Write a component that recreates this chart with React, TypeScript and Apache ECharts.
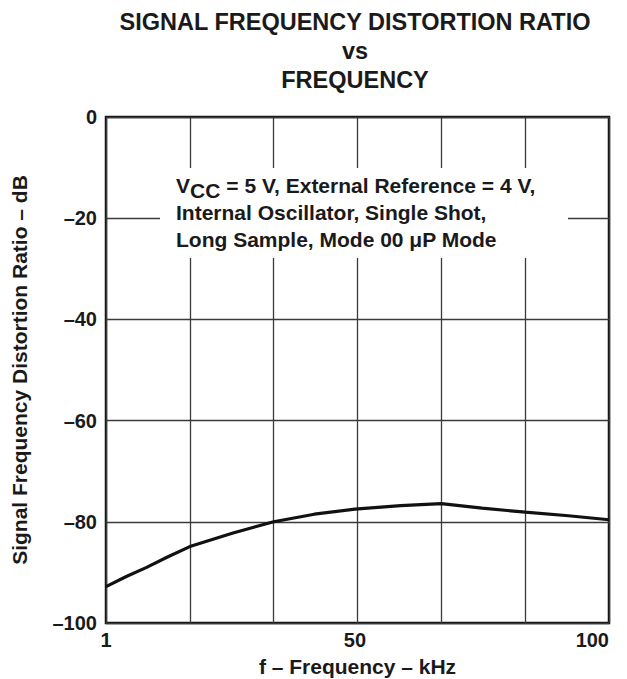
import React, { useEffect, useRef } from "react";
import * as echarts from "echarts";

const freqKHz = [1, 5, 9, 13, 17.5, 26, 34, 42, 50, 59, 67, 75, 83.5, 92, 100];
const distortionDb = [-92.8, -90.8, -89.0, -87.0, -84.9, -82.2, -80.0, -78.5, -77.5, -76.8, -76.4, -77.3, -78.1, -78.8, -79.6];
const xTickLabels = [1, 50, 100];
const yTicks = { min: -100, max: 0, interval: 20 };
const titleLines = ["SIGNAL FREQUENCY DISTORTION RATIO", "vs", "FREQUENCY"];
const noteLine1 = ["V", "CC", " = 5 V, External Reference = 4 V,"];
const noteLines = ["Internal Oscillator, Single Shot,", "Long Sample, Mode 00 \u03bcP Mode"];

const FONT = "'Liberation Sans', Arial, Helvetica, sans-serif";

export default function App() {
  const ref = useRef<HTMLDivElement>(null);
  useEffect(() => {
    document.body.style.margin = "0";
    const chart = echarts.init(ref.current!, null, { renderer: "svg" });
    const GL = 106, GT = 117, GW = 503, GH = 506;
    chart.setOption({
      animation: false,
      backgroundColor: "#ffffff",
      textStyle: { fontFamily: FONT },
      grid: {
        left: GL,
        top: GT,
        width: GW,
        height: GH,
        show: true,
        borderColor: "#111",
        borderWidth: 2.5,
        backgroundColor: "transparent",
        outerBoundsMode: "none",
        containLabel: false,
      },
      xAxis: [
        {
          type: "value",
          min: 1,
          max: 100,
          position: "bottom",
          axisLine: { show: false },
          axisTick: { show: false },
          splitLine: { show: false },
          axisLabel: {
            customValues: xTickLabels,
            margin: 7,
            color: "#1a1a1a",
            fontSize: 20,
            fontWeight: "bold",
            fontFamily: FONT,
            alignMaxLabel: "right",
          },
          name: "f \u2013 Frequency \u2013 kHz",
          nameLocation: "middle",
          nameGap: 33,
          nameTextStyle: { color: "#1a1a1a", fontSize: 21, lineHeight: 21, fontWeight: "bold", fontFamily: FONT },
        },
        {
          type: "value",
          min: 0,
          max: 6,
          interval: 1,
          position: "bottom",
          axisLine: { show: false },
          axisTick: { show: false },
          axisLabel: { show: false },
          splitLine: { show: true, lineStyle: { color: "#3a3a3a", width: 1.3 } },
        },
      ],
      yAxis: {
        type: "value",
        min: yTicks.min,
        max: yTicks.max,
        interval: yTicks.interval,
        axisLine: { show: false },
        axisTick: { show: false },
        splitLine: { show: true, lineStyle: { color: "#3a3a3a", width: 1.3 } },
        axisLabel: {
          margin: 9,
          color: "#1a1a1a",
          fontSize: 20,
          fontWeight: "bold",
          fontFamily: FONT,
          formatter: (v: number) => (v < 0 ? "\u2013" + Math.abs(v) : String(v)),
        },
        name: "Signal Frequency Distortion Ratio \u2013 dB",
        nameLocation: "middle",
        nameGap: 76,
        nameTextStyle: { color: "#1a1a1a", fontSize: 21, fontWeight: "bold", fontFamily: FONT },
      },
      series: [
        {
          type: "line",
          xAxisIndex: 0,
          data: freqKHz.map((f, i) => [f, distortionDb[i]]),
          symbol: "none",
          smooth: false,
          lineStyle: { color: "#111", width: 3.2 },
          z: 5,
        },
      ],
      graphic: [
        {
          type: "text",
          x: 355,
          y: 7.5,
          style: {
            text: titleLines.join("\n"),
            font: `bold 23.5px ${FONT}`,
            fill: "#1a1a1a",
            align: "center",
            lineHeight: 29,
          },
        },
        {
          type: "rect",
          shape: { x: 160, y: 168, width: 408, height: 90 },
          style: { fill: "#ffffff" },
          z: 10,
        },
        {
          type: "text",
          x: 176,
          y: 185.5,
          z: 11,
          style: { text: noteLine1[0], font: `bold 21px ${FONT}`, fill: "#1a1a1a", verticalAlign: "middle" },
        },
        {
          type: "text",
          x: 190,
          y: 190,
          z: 11,
          style: { text: noteLine1[1], font: `bold 21px ${FONT}`, fill: "#1a1a1a", verticalAlign: "middle" },
        },
        {
          type: "text",
          x: 220.5,
          y: 185.5,
          z: 11,
          style: { text: noteLine1[2], font: `bold 21px ${FONT}`, fill: "#1a1a1a", verticalAlign: "middle" },
        },
        {
          type: "text",
          x: 176,
          y: 199,
          z: 11,
          style: { text: noteLines.join("\n"), font: `bold 21px ${FONT}`, fill: "#1a1a1a", lineHeight: 27 },
        },
      ],
    });
    return () => chart.dispose();
  }, []);
  return <div ref={ref} style={{ width: 627, height: 679 }} />;
}
